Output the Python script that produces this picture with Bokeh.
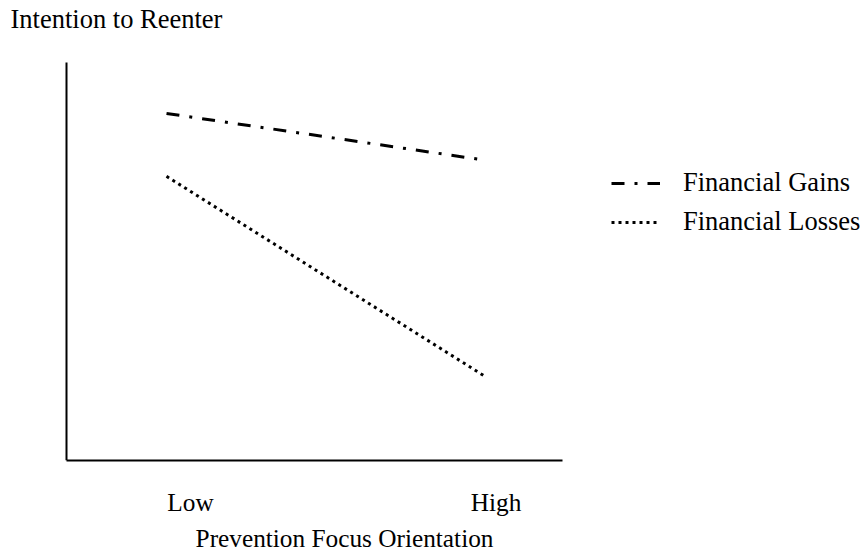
from bokeh.plotting import figure
from bokeh.models import Range1d, FixedTicker, Legend, LegendItem, Label, LinearAxis
from bokeh.embed import file_html
from bokeh.resources import INLINE

# ---- data ----
categories = ["Low", "High"]
x_pos = [0, 1]
gains = [8.72, 7.54]
losses = [7.14, 2.09]
series_names = ["Financial Gains", "Financial Losses"]
y_title = "Intention to Reenter"
x_title = "Prevention Focus Orientation"

FONT = "Liberation Serif"

p = figure(width=863, height=554,
           x_range=Range1d(-0.51875, 2.178), y_range=Range1d(0, 11.558),
           output_backend="svg", toolbar_location=None, y_axis_location=None,
           min_border_left=0, min_border_right=0, min_border_top=0,
           min_border_bottom=94)
p.background_fill_color = "white"
p.border_fill_color = "white"
p.outline_line_color = None
p.xgrid.visible = False
p.ygrid.visible = False

r_g = p.line(x_pos, gains, line_color="black", line_width=3, line_dash="13 10 3 10")
r_l = p.line(x_pos, losses, line_color="black", line_width=3, line_dash="3 4")

# x axis (line + category labels)
xa = p.xaxis[0]
xa.bounds = (-0.3125, 1.2375)
xa.ticker = FixedTicker(ticks=[0.075, 1.03])
xa.major_label_overrides = {0.075: categories[0], 1.03: categories[1]}
xa.major_tick_line_color = None
xa.minor_tick_line_color = None
xa.major_tick_out = 0
xa.major_tick_in = 0
xa.axis_line_width = 2
xa.major_label_standoff = 27
xa.major_label_text_font = FONT
xa.major_label_text_font_size = "25.3px"
xa.major_label_text_color = "black"

# second row below: the axis title, centred under the drawn axis
xt = LinearAxis(ticker=FixedTicker(ticks=[0.55625]),
                major_label_overrides={0.55625: x_title},
                axis_line_color=None, major_tick_line_color=None,
                minor_tick_line_color=None, major_tick_out=0, major_tick_in=0,
                major_label_standoff=5, major_label_text_font=FONT,
                major_label_text_font_size="25.3px", major_label_text_color="black")
p.add_layout(xt, "below")

# y axis drawn at a fixed x position
ya = LinearAxis(fixed_location=-0.3125, bounds=(0, 10), ticker=FixedTicker(ticks=[]),
                major_tick_line_color=None, minor_tick_line_color=None,
                major_label_text_font_size="0px", axis_line_width=2)
p.add_layout(ya, "left")

p.add_layout(Label(x=-0.4875, y=11.1, text=y_title, text_font=FONT,
                   text_font_size="26.5px", text_baseline="middle", text_color="black"))

legend = Legend(items=[LegendItem(label=series_names[0], renderers=[r_g]),
                       LegendItem(label=series_names[1], renderers=[r_l])],
                location=(611, 223), glyph_width=49, glyph_height=30,
                label_height=30, spacing=8, label_standoff=23,
                padding=0, margin=0, border_line_color=None,
                background_fill_alpha=0,
                label_text_font=FONT, label_text_font_size="26.5px",
                label_text_color="black")
p.add_layout(legend)

open("out.html", "w").write(file_html(p, INLINE))
